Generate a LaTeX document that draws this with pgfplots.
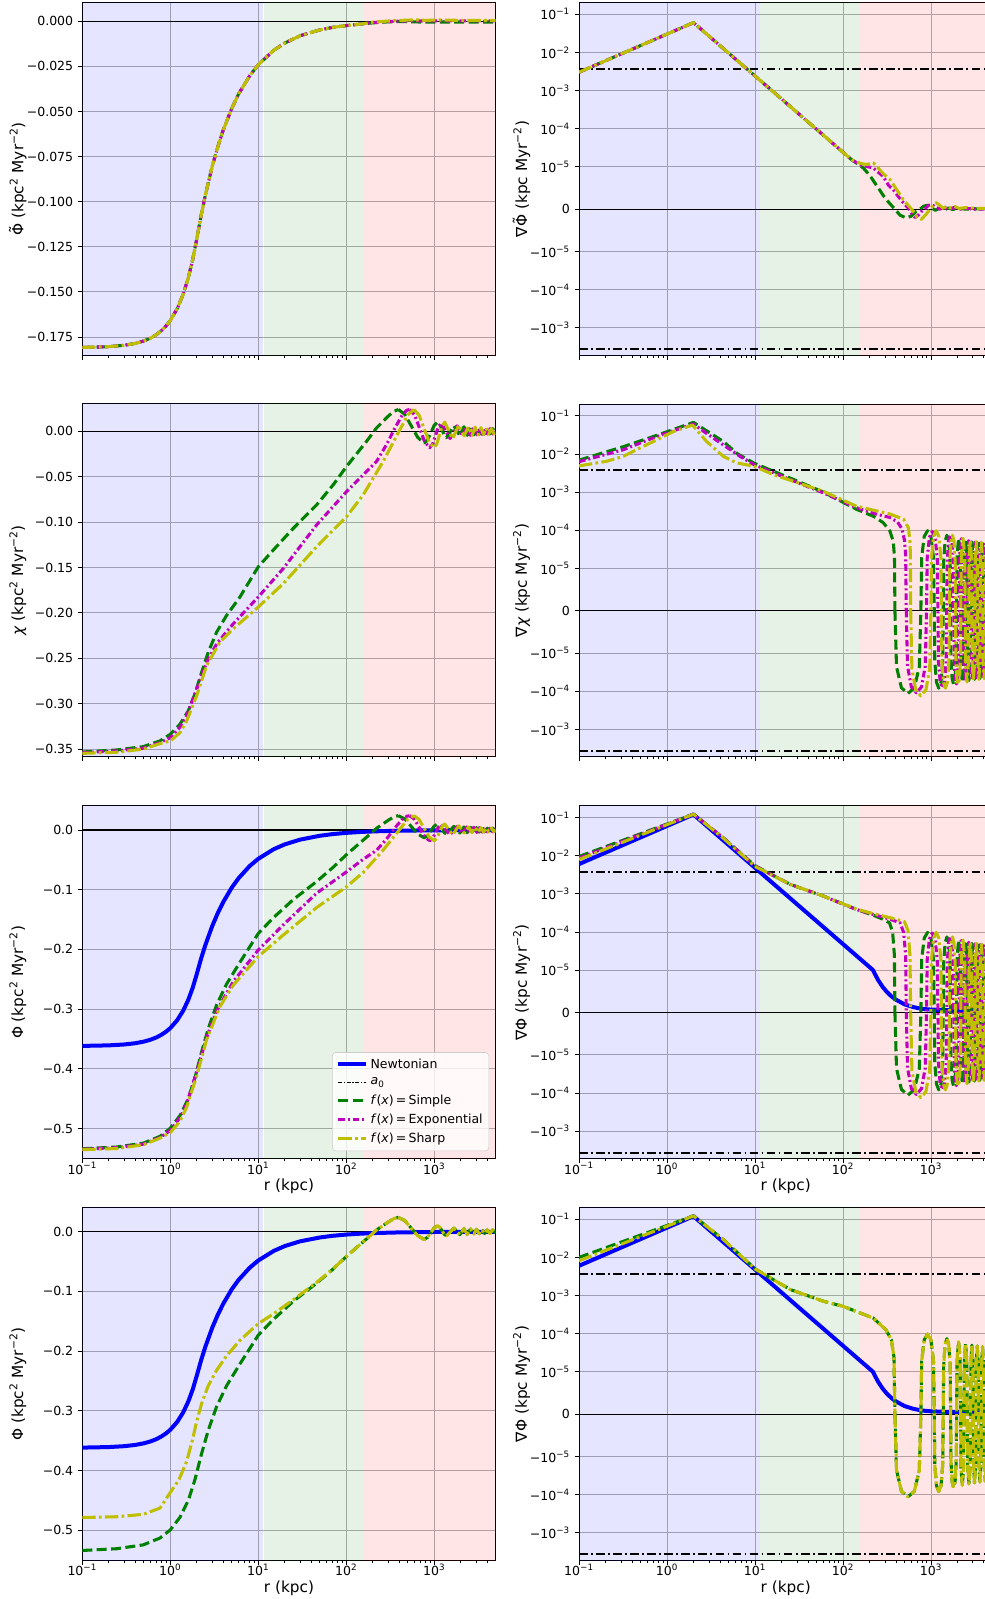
\documentclass[border=0pt]{standalone}
\usepackage{fontspec}
\setmainfont{DejaVu Sans}
\usepackage{pgfplots}
\usepackage{pgfplotstable}
\pgfplotsset{compat=1.18}
\definecolor{mg}{rgb}{0,0.5,0}
\definecolor{mm}{rgb}{0.75,0,0.75}
\definecolor{my}{rgb}{0.75,0.75,0}
\definecolor{gridc}{rgb}{0.69,0.69,0.69}
\newcommand\tp[1]{10\textsuperscript{#1}}
\newcommand\tPhi{\makebox[0pt][l]{\makebox[0.79em][c]{\raisebox{0.17em}{˜}}}Φ}

\pgfplotstableread{
x y
2.591 0
2.609 -1.47
2.665 -2.02
2.739 -2.17
2.812 -2.02
2.868 -1.47
2.886 0
2.895 1.40
2.924 1.95
2.962 2.10
3.000 1.95
3.029 1.40
3.038 0
3.044 -1.33
3.064 -1.88
3.089 -2.03
3.115 -1.88
3.134 -1.33
3.140 0
3.145 1.28
3.161 1.83
3.182 1.98
3.203 1.83
3.219 1.28
3.224 0
3.228 -1.23
3.241 -1.78
3.258 -1.93
3.275 -1.78
3.288 -1.23
3.292 0
3.2975 1.45
3.315 1.90
3.3325 1.45
3.338 0
3.342 -1.42
3.3565 -1.87
3.371 -1.42
3.375 0
3.380 1.40
3.394 1.85
3.408 1.40
3.413 0
3.418 -1.38
3.432 -1.83
3.446 -1.38
3.451 0
3.455 1.36
3.466 1.81
3.477 1.36
3.481 0
3.485 -1.35
3.496 -1.80
3.507 -1.35
3.511 0
3.515 1.34
3.5265 1.79
3.538 1.34
3.542 0
3.546 -1.33
3.557 -1.78
3.568 -1.33
3.572 0
3.576 1.32
3.587 1.77
3.598 1.32
3.602 0
3.606 -1.31
3.6175 -1.76
3.629 -1.31
3.633 0
3.637 1.30
3.649 1.75
3.661 1.30
3.665 0
3.670 -1.30
3.685 -1.75
3.699 -1.50
}\gradG

\pgfplotstableread{
x y
2.72 0
2.734 -1.45
2.778 -2.00
2.835 -2.15
2.893 -2.00
2.936 -1.45
2.95 0
2.958 1.38
2.983 1.93
3.015 2.08
3.048 1.93
3.072 1.38
3.08 0
3.086 -1.32
3.105 -1.87
3.13 -2.02
3.155 -1.87
3.174 -1.32
3.18 0
3.185 1.27
3.2 1.82
3.22 1.97
3.24 1.82
3.255 1.27
3.26 0
3.264 -1.22
3.275 -1.77
3.29 -1.92
3.305 -1.77
3.316 -1.22
3.32 0
3.326 1.44
3.345 1.89
3.364 1.44
3.37 0
3.375 -1.41
3.39 -1.86
3.405 -1.41
3.41 0
3.415 1.39
3.43 1.84
3.445 1.39
3.45 0
3.454 -1.37
3.4675 -1.82
3.481 -1.37
3.485 0
3.489 1.35
3.50 1.80
3.511 1.35
3.515 0
3.519 -1.34
3.53 -1.79
3.541 -1.34
3.545 0
3.549 1.33
3.56 1.78
3.571 1.33
3.575 0
3.579 -1.32
3.59 -1.77
3.601 -1.32
3.605 0
3.609 1.31
3.62 1.76
3.631 1.31
3.635 0
3.639 -1.30
3.65 -1.75
3.661 -1.30
3.665 0
3.669 1.30
3.68 1.75
3.699 1.0
}\gradM

\pgfplotstableread{
x y
2.77 0
2.784 -1.53
2.828 -2.08
2.885 -2.23
2.943 -2.08
2.986 -1.53
3.0 0
3.007 1.40
3.03 1.95
3.06 2.10
3.09 1.95
3.113 1.40
3.12 0
3.125 -1.33
3.1425 -1.88
3.165 -2.03
3.1875 -1.88
3.205 -1.33
3.21 0
3.214 1.28
3.2275 1.83
3.245 1.98
3.2625 1.83
3.276 1.28
3.28 0
3.284 -1.23
3.295 -1.78
3.31 -1.93
3.325 -1.78
3.336 -1.23
3.34 0
3.346 1.45
3.365 1.90
3.384 1.45
3.39 0
3.395 -1.42
3.41 -1.87
3.425 -1.42
3.43 0
3.434 1.40
3.4475 1.85
3.461 1.40
3.465 0
3.469 -1.38
3.4825 -1.83
3.496 -1.38
3.50 0
3.504 1.36
3.515 1.81
3.526 1.36
3.53 0
3.534 -1.35
3.545 -1.80
3.556 -1.35
3.56 0
3.564 1.34
3.575 1.79
3.586 1.34
3.59 0
3.594 -1.33
3.605 -1.78
3.616 -1.33
3.62 0
3.624 1.32
3.635 1.77
3.646 1.32
3.65 0
3.654 -1.31
3.665 -1.76
3.676 -1.31
3.68 0
3.684 1.30
3.699 1.70
}\gradY

\pgfplotstableread{
x y
2.591 0.024
2.665 0.0187
2.739 0.006
2.812 -0.0067
2.886 -0.013
2.924 -0.0095
2.962 -0.0015
3.0 0.0065
3.038 0.010
3.064 0.0075
3.089 0.0015
3.115 -0.0045
3.14 -0.007
3.182 -0.0005
3.224 0.006
3.258 0.0005
3.292 -0.005
3.338 0.005
3.375 -0.0045
3.413 0.0045
3.451 -0.004
3.481 0.004
3.511 -0.0035
3.542 0.0035
3.572 -0.003
3.602 0.003
3.633 -0.003
3.665 0.003
3.699 -0.002
}\potG

\pgfplotstableread{
x y
2.72 0.024
2.7775 0.0178
2.835 0.003
2.8925 -0.0118
2.95 -0.018
2.9825 -0.014
3.015 -0.0045
3.0475 0.005
3.08 0.009
3.13 0.0005
3.18 -0.008
3.22 -0.001
3.26 0.006
3.32 -0.005
3.37 0.005
3.41 -0.0045
3.45 0.0045
3.485 -0.004
3.515 0.004
3.545 -0.0035
3.575 0.0035
3.605 -0.003
3.635 0.003
3.665 -0.003
3.699 0.0025
}\potM

\pgfplotstableread{
x y
2.77 0.024
2.8275 0.0178
2.885 0.003
2.9425 -0.0118
3.0 -0.018
3.03 -0.0139
3.06 -0.004
3.09 0.0059
3.12 0.010
3.165 0.001
3.21 -0.008
3.245 -0.0005
3.28 0.007
3.34 -0.005
3.39 0.005
3.43 -0.0045
3.465 0.0045
3.50 -0.004
3.53 0.004
3.56 -0.0035
3.59 0.0035
3.62 -0.003
3.65 0.003
3.68 -0.003
3.699 0.0
}\potY

\pgfplotsset{
 base/.style={scale only axis, width=310.05pt, height=264.375pt, anchor=south west,
   xmin=-1, xmax=3.699, xtick={-1,0,1,2,3},
   minor xtick={-0.699,-0.523,-0.398,-0.301,-0.222,-0.155,-0.097,-0.046,0.301,0.477,0.602,0.699,0.778,0.845,0.903,0.954,1.301,1.477,1.602,1.699,1.778,1.845,1.903,1.954,2.301,2.477,2.602,2.699,2.778,2.845,2.903,2.954,3.301,3.477,3.602},
   grid=major, major grid style={gridc, line width=0.6pt},
   tick align=outside, tick pos=left,
   major tick length=3.3pt, minor tick length=1.9pt,
   tick style={black, line width=0.6pt},
   axis line style={black, line width=0.75pt},
   tick label style={font=\fontsize{9.4}{11}\selectfont},
   label style={font=\fontsize{11.5}{13}\selectfont},
 },
 notx/.style={xticklabels={}},
 withx/.style={xticklabels={\tp{−1},\tp{0},\tp{1},\tp{2},\tp{3}}, xlabel={r (kpc)},
   xticklabel style={yshift=3.8pt},
   xlabel style={at={(axis description cs:0.5,-0.08)},anchor=center}},
 leftax/.style={base, ylabel style={at={(axis description cs:-0.156,0.5)},anchor=center}},
 rightax/.style={base, ymin=-3.83, ymax=5.415,
   ytick={-3.111,-2.111,-1.111,0,1.111,2.111,3.111,4.111,5.111},
   yticklabels={−\tp{−3},−\tp{−4},−\tp{−5},0,\tp{−5},\tp{−4},\tp{−3},\tp{−2},\tp{−1}},
   ylabel style={at={(axis description cs:-0.139,0.5)},anchor=center}},
 potA/.style={ytick={-0.5,-0.4,-0.3,-0.2,-0.1,0}, yticklabels={−0.5,−0.4,−0.3,−0.2,−0.1,0.0}, ymin=-0.5503, ymax=0.0402},
 gS/.style={mg, line width=2.3pt, dash pattern=on 7.5pt off 3.3pt, line join=round},
 mS/.style={mm, line width=2.3pt, dash pattern=on 5pt off 2.2pt on 1.5pt off 2.2pt, line join=round},
 yS/.style={my, line width=2.3pt, dash pattern=on 10pt off 2.5pt on 2pt off 2.5pt, line join=round},
 bS/.style={blue, line width=3pt, line join=round},
 a0S/.style={black, line width=1.5pt, dash pattern=on 6.5pt off 2.5pt on 1.3pt off 2.5pt},
}

% #1 = low y, #2 = high y (just beyond the axis limits)
\newcommand\bg[2]{%
 \addplot[draw=none, fill=blue, fill opacity=0.1, forget plot] coordinates {(-1,#1) (1.057,#1) (1.057,#2) (-1,#2)} -- cycle;
 \addplot[draw=none, fill=mg, fill opacity=0.1, forget plot] coordinates {(1.062,#1) (2.193,#1) (2.193,#2) (1.062,#2)} -- cycle;
 \addplot[draw=none, fill=red, fill opacity=0.1, forget plot] coordinates {(2.193,#1) (3.8,#1) (3.8,#2) (2.193,#2)} -- cycle;
 \addplot[black, line width=0.9pt, forget plot] coordinates {(-1,0) (3.699,0)};
}
\newcommand\azero{%
 \addplot[a0S, forget plot] coordinates {(-1,3.68) (3.699,3.68)};
 \addplot[a0S, forget plot] coordinates {(-1,-3.68) (3.699,-3.68)};
}
\newcommand\bluepot{%
 \addplot[bS, forget plot] coordinates {(-1,-0.3617) (-0.699,-0.3608) (-0.523,-0.3593) (-0.398,-0.3572) (-0.301,-0.3545) (-0.222,-0.3512) (-0.155,-0.3473) (-0.097,-0.3427) (-0.046,-0.3376) (0,-0.3319) (0.079,-0.3186) (0.146,-0.3029) (0.204,-0.2848) (0.255,-0.2643) (0.301,-0.2414) (0.35,-0.2156) (0.398,-0.1931) (0.477,-0.1609) (0.54,-0.1392) (0.602,-0.1207) (0.699,-0.0965) (0.778,-0.0805) (0.903,-0.0603) (1.0,-0.0483) (1.176,-0.0322) (1.301,-0.0241) (1.477,-0.0161) (1.699,-0.0097) (1.845,-0.0069) (2.0,-0.0048) (2.176,-0.0032) (2.342,-0.0022) (2.6,-0.0012) (3.0,-0.0005) (3.699,-0.0002)};
}
\newcommand\bluegrad{%
 \addplot[bS, forget plot] coordinates {(-1,3.891) (0.301,5.192) (1,3.795) (2,1.795) (2.2,1.395) (2.3,1.195) (2.342,1.111) (2.36,1.022) (2.4,0.85) (2.45,0.675) (2.5,0.536) (2.55,0.426) (2.6,0.338) (2.7,0.213) (2.8,0.14) (2.9,0.095) (3.0,0.075) (3.2,0.06) (3.4,0.05) (3.699,0.045)};
}
\newcommand\greenpot{%
 \addplot[gS, forget plot] coordinates {(-1,-0.534) (-0.61,-0.5311) (-0.307,-0.5246) (-0.117,-0.5132) (0,-0.4996) (0.11,-0.4785) (0.205,-0.4501) (0.28,-0.4156) (0.356,-0.3718) (0.432,-0.3325) (0.527,-0.2929) (0.64,-0.2581) (0.792,-0.2215) (1.0,-0.1734) (1.17,-0.1472) (1.398,-0.1166) (1.663,-0.0864) (1.852,-0.0624) (2.004,-0.0411) (2.231,-0.0121) (2.345,0.0029) (2.477,0.0162) (2.54,0.0218) (2.591,0.024)};
 \addplot[gS, forget plot] table[x=x,y=y] {\potG};
}

\begin{document}
\begin{tikzpicture}
\path[use as bounding box] (0,0) rectangle (738.75pt,1199.25pt);

% ---------------- Row 1 left
\begin{axis}[leftax, notx, at={(61.725pt,932.85pt)}, ymin=-0.1851, ymax=0.0103,
  ytick={-0.175,-0.15,-0.125,-0.1,-0.075,-0.05,-0.025,0},
  yticklabels={−0.175,−0.150,−0.125,−0.100,−0.075,−0.050,−0.025,0.000},
  ylabel={\tPhi{} (kpc\textsuperscript{2} Myr\textsuperscript{−2})}]
\bg{-0.2}{0.02}
\addplot[gS] coordinates {(-1,-0.1808) (-0.699,-0.1804) (-0.523,-0.1796) (-0.398,-0.1786) (-0.301,-0.1772) (-0.222,-0.1756) (-0.155,-0.1736) (-0.097,-0.1713) (-0.046,-0.1688) (0,-0.1659) (0.079,-0.1593) (0.146,-0.1514) (0.204,-0.1424) (0.255,-0.1321) (0.301,-0.1207) (0.35,-0.1078) (0.398,-0.0965) (0.477,-0.0804) (0.54,-0.0696) (0.602,-0.0603) (0.699,-0.0483) (0.778,-0.0402) (0.903,-0.0302) (1.0,-0.0241) (1.176,-0.0161) (1.301,-0.0121) (1.477,-0.0080) (1.699,-0.0048) (1.845,-0.0034) (2.0,-0.0024) (2.176,-0.0015) (2.3,-0.0009) (2.45,-0.0004) (2.6,-0.0002) (2.75,-0.0003) (2.9,-0.0005) (3.1,-0.0004) (3.699,-0.0004)};
\addplot[mS] coordinates {(-1,-0.1808) (-0.699,-0.1804) (-0.523,-0.1796) (-0.398,-0.1786) (-0.301,-0.1772) (-0.222,-0.1756) (-0.155,-0.1736) (-0.097,-0.1713) (-0.046,-0.1688) (0,-0.1659) (0.079,-0.1593) (0.146,-0.1514) (0.204,-0.1424) (0.255,-0.1321) (0.301,-0.1207) (0.35,-0.1078) (0.398,-0.0965) (0.477,-0.0804) (0.54,-0.0696) (0.602,-0.0603) (0.699,-0.0483) (0.778,-0.0402) (0.903,-0.0302) (1.0,-0.0241) (1.176,-0.0161) (1.301,-0.0121) (1.477,-0.0080) (1.699,-0.0048) (1.845,-0.0034) (2.0,-0.0024) (2.176,-0.0015) (2.3,-0.0007) (2.5,-0.0001) (2.75,0.0003) (2.9,0.0001) (3.1,0.0003) (3.4,0.0002) (3.699,0.0002)};
\addplot[yS] coordinates {(-1,-0.1808) (-0.699,-0.1804) (-0.523,-0.1796) (-0.398,-0.1786) (-0.301,-0.1772) (-0.222,-0.1756) (-0.155,-0.1736) (-0.097,-0.1713) (-0.046,-0.1688) (0,-0.1659) (0.079,-0.1593) (0.146,-0.1514) (0.204,-0.1424) (0.255,-0.1321) (0.301,-0.1207) (0.35,-0.1078) (0.398,-0.0965) (0.477,-0.0804) (0.54,-0.0696) (0.602,-0.0603) (0.699,-0.0483) (0.778,-0.0402) (0.903,-0.0302) (1.0,-0.0241) (1.176,-0.0161) (1.301,-0.0121) (1.477,-0.0080) (1.699,-0.0048) (1.845,-0.0034) (2.0,-0.0024) (2.176,-0.0015) (2.3,-0.0005) (2.5,0.0002) (2.78,0.0008) (2.9,0.0005) (3.06,0.0007) (3.3,0.0005) (3.699,0.0005)};
\end{axis}

% ---------------- Row 1 right
\begin{axis}[rightax, notx, at={(434.25pt,932.85pt)},
  ylabel={∇\tPhi{} (kpc Myr\textsuperscript{−2})}]
\bg{-4}{6}
\azero
\addplot[gS] coordinates {(-1,3.591) (0.301,4.892) (1,3.494) (2,1.494) (2.1,1.294) (2.16,1.20) (2.231,1.08) (2.30,0.90) (2.345,0.75) (2.40,0.56) (2.458,0.36) (2.52,0.18) (2.59,0) (2.65,-0.16) (2.72,-0.23) (2.78,-0.18) (2.83,-0.06) (2.875,0) (2.92,0.08) (2.96,0.10) (3.0,0.05) (3.05,-0.03) (3.1,0.03) (3.15,-0.02) (3.2,0.03) (3.25,-0.01) (3.3,0.02) (3.4,0.0) (3.5,0.01) (3.699,0)};
\addplot[mS] coordinates {(-1,3.591) (0.301,4.892) (1,3.494) (2,1.494) (2.1,1.294) (2.2,1.16) (2.27,1.12) (2.345,1.08) (2.40,0.97) (2.458,0.86) (2.52,0.62) (2.572,0.51) (2.63,0.33) (2.686,0.17) (2.754,0) (2.79,-0.15) (2.82,-0.22) (2.86,-0.15) (2.90,-0.04) (2.93,0) (2.97,0.10) (3.01,0.12) (3.05,0.06) (3.1,0.0) (3.15,0.05) (3.2,0.0) (3.26,0.04) (3.32,0.0) (3.4,0.02) (3.5,0.0) (3.699,0.01)};
\addplot[yS] coordinates {(-1,3.591) (0.301,4.892) (1,3.494) (2,1.494) (2.1,1.294) (2.2,1.20) (2.27,1.17) (2.345,1.215) (2.40,1.08) (2.458,0.93) (2.534,0.78) (2.6,0.55) (2.686,0.25) (2.78,0) (2.84,-0.20) (2.89,-0.27) (2.94,-0.15) (2.99,0) (3.03,0.12) (3.06,0.17) (3.1,0.10) (3.14,0.02) (3.18,0.08) (3.22,0.03) (3.27,0.07) (3.32,0.02) (3.4,0.04) (3.5,0.02) (3.699,0.02)};
\end{axis}

% ---------------- Row 2 left
\begin{axis}[leftax, notx, at={(61.725pt,631.65pt)}, ymin=-0.3585, ymax=0.0303,
  ytick={-0.35,-0.3,-0.25,-0.2,-0.15,-0.1,-0.05,0},
  yticklabels={−0.35,−0.30,−0.25,−0.20,−0.15,−0.10,−0.05,0.00},
  ylabel={{\itshape χ} (kpc\textsuperscript{2} Myr\textsuperscript{−2})}]
\bg{-0.4}{0.05}
\addplot[gS] coordinates {(-1,-0.3532) (-0.61,-0.351) (-0.307,-0.3473) (-0.117,-0.341) (0,-0.3337) (0.11,-0.3226) (0.205,-0.3079) (0.28,-0.2894) (0.356,-0.2655) (0.432,-0.2433) (0.527,-0.2212) (0.64,-0.2028) (0.792,-0.1825) (1.0,-0.1493) (1.17,-0.1309) (1.398,-0.1069) (1.663,-0.0811) (1.852,-0.059) (2.004,-0.0387) (2.231,-0.0111) (2.345,0.0037) (2.477,0.0166) (2.54,0.0218) (2.591,0.024)};
\addplot[gS] table[x=x,y=y] {\potG};
\addplot[mS] coordinates {(-1,-0.354) (-0.61,-0.352) (-0.307,-0.349) (-0.117,-0.343) (0,-0.3374) (0.11,-0.326) (0.186,-0.3134) (0.30,-0.2839) (0.413,-0.2544) (0.527,-0.2341) (0.716,-0.212) (1.0,-0.1825) (1.284,-0.1512) (1.663,-0.1032) (2.004,-0.0664) (2.193,-0.0479) (2.345,-0.0332) (2.458,-0.0147) (2.553,0.0035) (2.64,0.0185) (2.69,0.0232) (2.72,0.024)};
\addplot[mS] table[x=x,y=y] {\potM};
\addplot[yS] coordinates {(-1,-0.3547) (-0.61,-0.3535) (-0.307,-0.350) (-0.117,-0.344) (0,-0.341) (0.11,-0.332) (0.186,-0.319) (0.30,-0.2913) (0.413,-0.258) (0.564,-0.2323) (0.716,-0.2175) (1.0,-0.1936) (1.284,-0.1678) (1.663,-0.1272) (2.004,-0.094) (2.193,-0.070) (2.42,-0.0332) (2.61,0.0018) (2.70,0.018) (2.77,0.024)};
\addplot[yS] table[x=x,y=y] {\potY};
\end{axis}

% ---------------- Row 2 right
\begin{axis}[rightax, notx, at={(434.25pt,631.65pt)},
  ylabel={∇{\itshape χ} (kpc Myr\textsuperscript{−2})}]
\bg{-4}{6}
\azero
\addplot[gS] coordinates {(-1,3.95) (-0.5,4.30) (-0.117,4.60) (0.301,4.94) (0.45,4.72) (0.64,4.44) (0.8,4.12) (0.99,3.87) (1.21,3.66) (1.40,3.48) (1.78,3.11) (2.155,2.66) (2.345,2.48) (2.458,2.31) (2.534,2.09) (2.572,1.82) (2.586,1.40) (2.591,0)};
\addplot[gS] table[x=x,y=y] {\gradG};
\addplot[mS] coordinates {(-1,3.91) (-0.5,4.22) (-0.117,4.57) (0.301,4.90) (0.45,4.65) (0.64,4.35) (0.83,4.05) (0.99,3.83) (1.40,3.44) (1.78,3.09) (2.155,2.70) (2.4,2.52) (2.53,2.45) (2.62,2.33) (2.67,2.15) (2.70,1.85) (2.713,1.45) (2.72,0)};
\addplot[mS] table[x=x,y=y] {\gradM};
\addplot[yS] coordinates {(-1,3.80) (-0.686,3.92) (-0.496,4.05) (-0.307,4.27) (-0.117,4.48) (0.072,4.70) (0.29,4.87) (0.45,4.44) (0.64,4.05) (0.79,3.88) (0.99,3.79) (1.21,3.57) (1.78,3.13) (2.155,2.74) (2.53,2.54) (2.69,2.40) (2.745,2.17) (2.762,1.82) (2.767,1.45) (2.77,0)};
\addplot[yS] table[x=x,y=y] {\gradY};
\end{axis}

% ---------------- Row 3 left
\begin{axis}[leftax, withx, potA, at={(61.725pt,330.375pt)},
  ylabel={Φ (kpc\textsuperscript{2} Myr\textsuperscript{−2})},
  legend cell align=left,
  legend image code/.code={\draw[#1] (0pt,0pt) -- (21pt,0pt);},
  legend style={at={(0.984,0.021)}, anchor=south east, font=\fontsize{9.4}{11}\selectfont,
    draw=black!20, fill=white, fill opacity=0.8, text opacity=1, rounded corners=2.5pt,
    row sep=2.2pt, inner sep=2.8pt, nodes={inner sep=1.8pt}}]
\addlegendimage{bS}
\addlegendentry{Newtonian}
\addlegendimage{black, line width=0.5pt, dash pattern=on 3pt off 1.3pt on 0.8pt off 1.3pt}
\addlegendentry{\textit{a}\textsubscript{0}}
\addlegendimage{gS}
\addlegendentry{\textit{f}(\textit{x})\,=\,Simple}
\addlegendimage{mS}
\addlegendentry{\textit{f}(\textit{x})\,=\,Exponential}
\addlegendimage{yS}
\addlegendentry{\textit{f}(\textit{x})\,=\,Sharp}
\bg{-0.6}{0.06}
\bluepot
\greenpot
\addplot[mS, forget plot] coordinates {(-1,-0.5348) (-0.61,-0.5321) (-0.307,-0.5263) (-0.117,-0.5152) (0,-0.5033) (0.11,-0.4819) (0.186,-0.4588) (0.30,-0.4048) (0.413,-0.3476) (0.527,-0.3030) (0.716,-0.2540) (1.0,-0.2010) (1.284,-0.1590) (1.663,-0.1060) (2.004,-0.0700) (2.193,-0.049) (2.345,-0.034) (2.458,-0.0152) (2.553,0.0035) (2.64,0.0183) (2.69,0.023) (2.72,0.024)};
\addplot[mS, forget plot] table[x=x,y=y] {\potM};
\addplot[yS, forget plot] coordinates {(-1,-0.5355) (-0.61,-0.5336) (-0.307,-0.5273) (-0.117,-0.5162) (0,-0.5069) (0.11,-0.4879) (0.186,-0.4644) (0.30,-0.4122) (0.413,-0.3512) (0.564,-0.2960) (0.716,-0.2600) (1.0,-0.2120) (1.284,-0.1760) (1.663,-0.1300) (2.004,-0.0950) (2.193,-0.0711) (2.42,-0.0337) (2.61,0.0015) (2.70,0.018) (2.77,0.024)};
\addplot[yS, forget plot] table[x=x,y=y] {\potY};
\end{axis}

% ---------------- Row 3 right
\begin{axis}[rightax, withx, at={(434.25pt,330.375pt)},
  ylabel={∇Φ (kpc Myr\textsuperscript{−2})}]
\bg{-4}{6}
\azero
\bluegrad
\addplot[gS] coordinates {(-1,4.09) (0.301,5.20) (0.64,4.58) (1.0,3.85) (1.4,3.36) (1.78,3.05) (2.0,2.85) (2.155,2.70) (2.345,2.55) (2.45,2.45) (2.53,2.35) (2.565,2.10) (2.585,1.50) (2.591,0)};
\addplot[gS] table[x=x,y=y] {\gradG};
\addplot[mS] coordinates {(-1,4.05) (0.301,5.20) (0.64,4.58) (1.0,3.84) (1.4,3.36) (1.78,3.05) (2.0,2.84) (2.155,2.70) (2.345,2.57) (2.53,2.45) (2.65,2.35) (2.69,2.10) (2.713,1.50) (2.72,0)};
\addplot[mS] table[x=x,y=y] {\gradM};
\addplot[yS] coordinates {(-1,4.01) (0.301,5.20) (0.64,4.57) (1.0,3.83) (1.4,3.36) (1.78,3.05) (2.0,2.85) (2.155,2.71) (2.345,2.59) (2.53,2.49) (2.70,2.38) (2.74,2.15) (2.762,1.50) (2.77,0)};
\addplot[yS] table[x=x,y=y] {\gradY};
\end{axis}

% ---------------- Row 4 left
\begin{axis}[leftax, withx, potA, at={(61.725pt,29.1pt)},
  ylabel={Φ (kpc\textsuperscript{2} Myr\textsuperscript{−2})}]
\bg{-0.6}{0.06}
\bluepot
\greenpot
\addplot[yS] coordinates {(-1,-0.4788) (-0.61,-0.4775) (-0.307,-0.4735) (-0.117,-0.463) (0,-0.437) (0.1,-0.415) (0.186,-0.385) (0.25,-0.35) (0.30,-0.318) (0.356,-0.288) (0.432,-0.258) (0.527,-0.232) (0.64,-0.208) (0.792,-0.182) (1.0,-0.154) (1.17,-0.138) (1.398,-0.1140) (1.663,-0.0850) (1.852,-0.0620) (2.004,-0.0411) (2.231,-0.0121) (2.345,0.0029) (2.477,0.0162) (2.54,0.0218) (2.591,0.024)};
\addplot[yS] table[x=x,y=y] {\potG};
\end{axis}

% ---------------- Row 4 right
\begin{axis}[rightax, withx, at={(434.25pt,29.1pt)},
  ylabel={∇Φ (kpc Myr\textsuperscript{−2})}]
\bg{-4}{6}
\azero
\bluegrad
\addplot[gS] coordinates {(-1,4.111) (0.301,5.20) (0.64,4.58) (1.0,3.81) (1.4,3.27) (1.78,2.96) (2.0,2.83) (2.345,2.52) (2.49,2.21) (2.55,1.95) (2.58,1.50) (2.591,0)};
\addplot[gS] table[x=x,y=y] {\gradG};
\addplot[yS] coordinates {(-1,4.024) (0.301,5.20) (0.64,4.58) (1.0,3.81) (1.4,3.27) (1.78,2.96) (2.0,2.83) (2.345,2.52) (2.49,2.21) (2.55,1.95) (2.58,1.50) (2.591,0)};
\addplot[yS] table[x=x,y=y] {\gradG};
\end{axis}
\end{tikzpicture}
\end{document}
